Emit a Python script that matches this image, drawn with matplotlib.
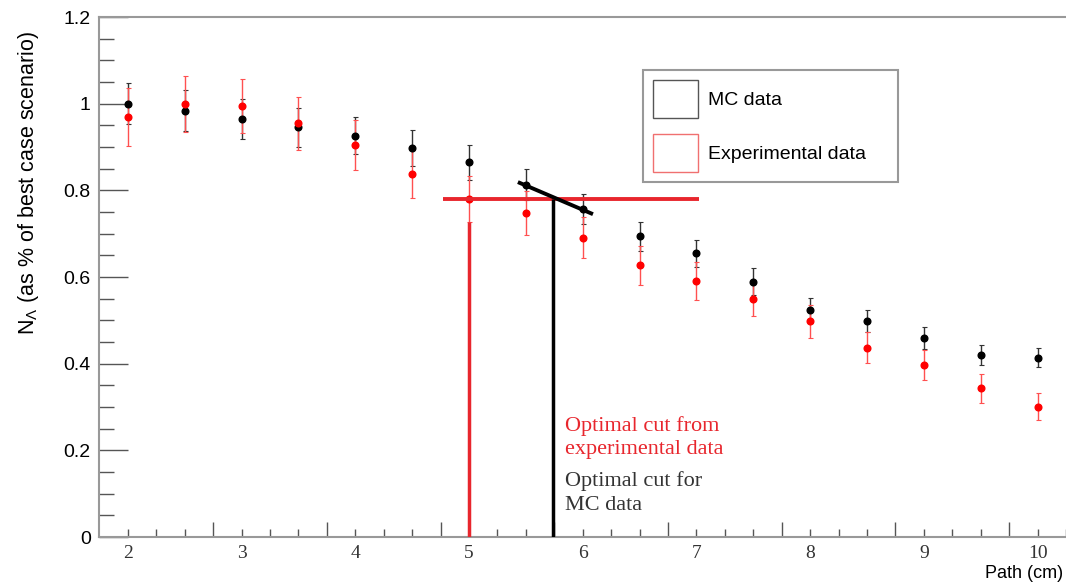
import matplotlib
matplotlib.use("Agg")
import matplotlib.pyplot as plt
import matplotlib.patches as mpatches
import matplotlib.transforms as mtransforms
import numpy as np

# path length cut (cm)
path = [2, 2.5, 3, 3.5, 4, 4.5, 5, 5.5, 6, 6.5, 7, 7.5, 8, 8.5, 9, 9.5, 10]

# MC data (fraction of best case)
mc = [1.0, 0.984, 0.965, 0.946, 0.926, 0.898, 0.865, 0.813, 0.757, 0.694,
      0.655, 0.589, 0.523, 0.499, 0.459, 0.42, 0.414]
mc_err = [0.048, 0.047, 0.046, 0.045, 0.043, 0.042, 0.040, 0.036, 0.035, 0.034,
          0.031, 0.031, 0.029, 0.026, 0.025, 0.024, 0.022]

# experimental data
exp = [0.969, 1.0, 0.995, 0.955, 0.904, 0.838, 0.78, 0.748, 0.691, 0.627,
       0.591, 0.55, 0.498, 0.437, 0.397, 0.343, 0.301]
exp_err = [0.067, 0.065, 0.063, 0.061, 0.058, 0.056, 0.052, 0.050, 0.048, 0.045,
           0.043, 0.041, 0.038, 0.036, 0.034, 0.033, 0.031]

# optimal cut markers
exp_cut = 5.0
exp_cut_top = 0.727
cut_level = 0.78
level_x = [4.77, 7.02]
mc_cut = 5.74
slope_x = [5.43, 6.09]
slope_y = [0.819, 0.745]

x_labels = [2, 3, 4, 5, 6, 7, 8, 9, 10]

RED = "#e8262d"
SANS = "Liberation Sans"
SERIF = "Liberation Serif"

plt.rcParams["font.family"] = SANS
plt.rcParams["mathtext.fontset"] = "custom"
plt.rcParams["mathtext.rm"] = SANS
plt.rcParams["mathtext.it"] = SANS

fig = plt.figure(figsize=(10.66, 5.85), dpi=100)
ax = fig.add_axes([99 / 1066, 48 / 585, 967 / 1066, 520 / 585])

ax.errorbar(path, mc, yerr=mc_err, fmt="o", color="black", ms=4.8,
            ecolor="#333333", elinewidth=1, capsize=1.8, capthick=0.8, zorder=3)
ax.errorbar(path, exp, yerr=exp_err, fmt="o", color="#ff0000", ms=4.8,
            ecolor="#ff5050", elinewidth=1, capsize=1.8, capthick=0.8, zorder=3)

# cut lines
ax.plot(level_x, [cut_level, cut_level], color=RED, lw=2.8, solid_capstyle="butt", zorder=4)
ax.plot([exp_cut, exp_cut], [0, exp_cut_top], color=RED, lw=2.5, solid_capstyle="butt", zorder=4)
ax.plot([mc_cut, mc_cut], [0, cut_level], color="black", lw=2.5, solid_capstyle="butt", zorder=5)
ax.plot(slope_x, slope_y, color="black", lw=2.8, solid_capstyle="butt", zorder=5)

ax.text(5.84, 0.280, "Optimal cut from\nexperimental data", color=RED,
        family=SERIF, fontsize=16, va="top", ha="left", linespacing=1.35)
ax.text(5.84, 0.152, "Optimal cut for\nMC data", color="#333333",
        family=SERIF, fontsize=16, va="top", ha="left", linespacing=1.35)

ax.set_xlim(1.746, 10.228)
ax.set_ylim(0, 1.2)

# axis frame
for side in ["left", "bottom", "top"]:
    ax.spines[side].set_color("#999999")
    ax.spines[side].set_linewidth(1.5)
ax.spines["right"].set_visible(False)

ax.set_yticks(np.arange(0, 1.21, 0.2))
ax.set_yticks(np.arange(0, 1.21, 0.05), minor=True)
ax.set_yticklabels(["0", "0.2", "0.4", "0.6", "0.8", "1", "1.2"], fontsize=14)
ax.tick_params(axis="y", which="major", direction="in", length=21, width=1,
               color="#555555", pad=6)
ax.tick_params(axis="y", which="minor", direction="in", length=10.5, width=1,
               color="#555555")

ax.set_xticks(np.arange(2.75, 10.3, 1.0))
ax.set_xticks(np.arange(2.0, 10.3, 0.25), minor=True)
ax.set_xticklabels([])
ax.tick_params(axis="x", which="major", direction="in", length=11, width=1,
               color="#555555")
ax.tick_params(axis="x", which="minor", direction="in", length=6, width=1,
               color="#555555")

trans = mtransforms.blended_transform_factory(ax.transData, ax.transAxes)
for v in x_labels:
    ax.annotate(str(v), xy=(v, 0), xycoords=trans, xytext=(0, -5.5),
                textcoords="offset points", ha="center", va="top",
                family=SERIF, fontsize=14, color="#333333")

fig.text(1063 / 1066, 1 - 578 / 585, "Path (cm)", ha="right", va="baseline",
         fontsize=13)
fig.text(29 / 1066, 1 - 183 / 585, r"N$_\Lambda$ (as % of best case scenario)",
         rotation=90, ha="center", va="center", fontsize=15.5)

handles = [
    mpatches.Patch(facecolor="white", edgecolor="#555555", lw=1, label="MC data"),
    mpatches.Patch(facecolor="white", edgecolor="#f07070", lw=1, label="Experimental data"),
]
leg = ax.legend(handles=handles, loc="upper left", bbox_to_anchor=(0.5626, 0, 0.2637, 0.898),
                mode="expand", borderaxespad=0, fontsize=14, handlelength=2.32,
                handleheight=2.64, labelspacing=0.82, borderpad=0.5, handletextpad=0.5,
                fancybox=False, framealpha=1, edgecolor="#999999")
leg.get_frame().set_linewidth(1.5)

fig.savefig("out.png", dpi=100)
